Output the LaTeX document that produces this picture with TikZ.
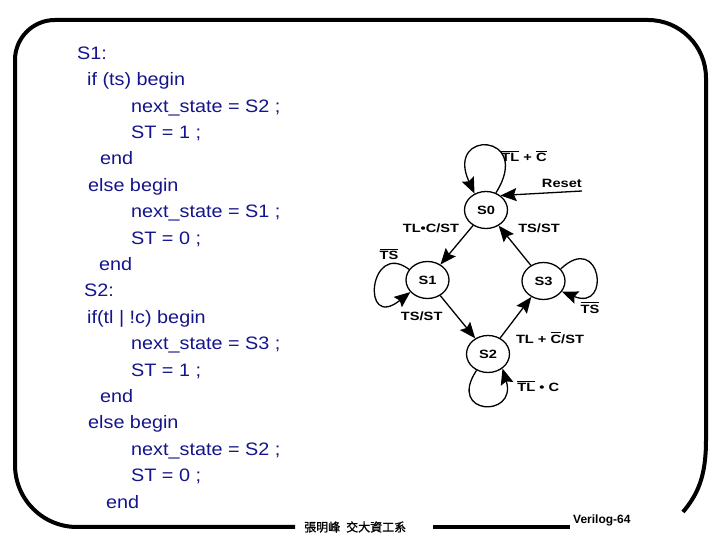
\documentclass[tikz,border=0pt]{standalone}
\usepackage{fontspec}
\setmainfont{Liberation Sans}
\newfontfamily\codefont[FakeStretch=1.1]{Liberation Sans}
\newfontfamily\labfont[FakeStretch=1.22]{Liberation Sans}
\newfontfamily\cjkfont[FakeBold=1]{Noto Sans CJK TC}
\usetikzlibrary{shapes.geometric,arrows.meta}
\definecolor{navy}{RGB}{20,20,140}
\newcommand\ovbar[1]{\vbox{\hrule height 1.2pt\kern 1.6pt\hbox{#1}}}
\begin{document}
\begin{tikzpicture}[x=1pt,y=1pt,
 codetxt/.style={anchor=base west, inner sep=0pt, text=navy, font=\codefont\fontsize{18}{20}\selectfont},
 lab/.style={anchor=base, inner sep=0pt, font=\labfont\bfseries\fontsize{12}{14}\selectfont},
 stnode/.style={ellipse, draw, line width=1.3pt, minimum width=43pt, minimum height=37pt, inner sep=0pt, font=\labfont\bfseries\fontsize{12}{14}\selectfont},
 arr/.style={line width=1.3pt, -{Stealth[length=16pt,width=13pt,inset=2.5pt]}},
 border4/.style={line width=4pt}]
\useasboundingbox (0,0) rectangle (720,540);

% frame
\draw[border4] (295,13) -- (77,13) arc[start angle=270,end angle=180,radius=62]
  -- (15,480) arc[start angle=180,end angle=90,radius=40]
  -- (648,520) arc[start angle=90,end angle=0,radius=58]
  -- (706,100) .. controls (706,62) and (697,45) .. (683,28);
\draw[border4] (433,13) -- (570,13);
\node[anchor=west, inner sep=0pt, font=\cjkfont\fontsize{12}{14}\selectfont] (footer) at (304,13) {張明峰\hspace{6pt}交大資工系};
\node[anchor=base west, inner sep=0pt, font=\bfseries\fontsize{12}{14}\selectfont] (ver) at (573,16.7) {Verilog-64};

% code
\node[codetxt] (c0) at (77,480.7) {S1:};
\node[codetxt] (c1) at (87,454.3) {if (ts) begin};
\node[codetxt] (c2) at (131,427.9) {next\_state = S2 ;};
\node[codetxt] (c3) at (131,401.5) {ST = 1 ;};
\node[codetxt] (c4) at (100,375.1) {end};
\node[codetxt] (c5) at (88,348.7) {else begin};
\node[codetxt] (c6) at (131,322.3) {next\_state = S1 ;};
\node[codetxt] (c7) at (131,295.9) {ST = 0 ;};
\node[codetxt] (c8) at (99,269.5) {end};
\node[codetxt] (c9) at (84,243.1) {S2:};
\node[codetxt] (c10) at (87,216.7) {if(tl | !c) begin};
\node[codetxt] (c11) at (131,190.3) {next\_state = S3 ;};
\node[codetxt] (c12) at (131,163.9) {ST = 1 ;};
\node[codetxt] (c13) at (100,137.5) {end};
\node[codetxt] (c14) at (88,111.1) {else begin};
\node[codetxt] (c15) at (131,84.7) {next\_state = S2 ;};
\node[codetxt] (c16) at (131,58.3) {ST = 0 ;};
\node[codetxt] (c17) at (106,31.9) {end};

% states
\node[stnode] (S0) at (486,330) {S0};
\node[stnode] (S1) at (427.5,260) {S1};
\node[stnode] (S3) at (543.5,259) {S3};
\node[stnode] (S2) at (488,186) {S2};

% transitions
\draw[arr] (S0) -- (S1);
\draw[arr] (S3) -- (S0);
\draw[arr] (S1) -- (S2);
\draw[arr] (S2) -- (S3);
\coordinate (rs) at (582,349);
\draw[arr] (rs) -- (S0.45);
\draw[arr] (S0.60) .. controls +(38,60) and +(-30,65) .. (S0.125);
\draw[arr] (S1.150) .. controls +(-40,30) and +(-50,-40) .. (S1.215);
\draw[arr] (S3.35) .. controls +(40,38) and +(50,-20) .. (S3.330);
\draw[arr] (S2.235) .. controls +(-30,-45) and +(15,-50) .. (S2.315);

% labels
\node[lab] (l0) at (524,378.3) {\ovbar{TL} + \ovbar{C}};
\node[lab, anchor=base east] (lreset) at (582,352) {Reset};
\node[lab] (l01) at (431,307.3) {TL•C/ST};
\node[lab] (l30) at (539,307.3) {TS/ST};
\node[lab] (l11) at (389,280) {\ovbar{TS}};
\node[lab] (l12) at (421.7,219.3) {TS/ST};
\node[lab] (l33) at (590,226.7) {\ovbar{TS}};
\node[lab] (l23) at (550,196.7) {TL + \ovbar{C}/ST};
\node[lab] (l22) at (538.3,148.3) {\ovbar{TL} • C};
\end{tikzpicture}
\end{document}
